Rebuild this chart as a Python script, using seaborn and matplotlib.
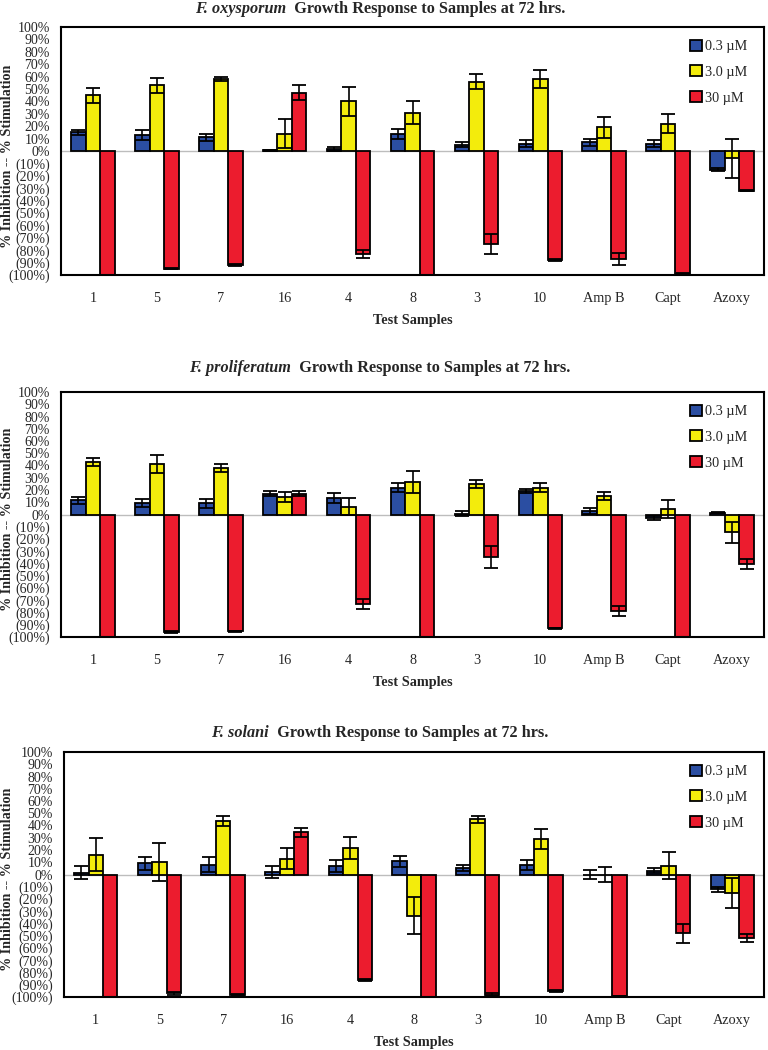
import matplotlib
matplotlib.use("Agg")
import numpy as np
import pandas as pd
import seaborn as sns
import matplotlib.pyplot as plt

# test samples and dose levels
samples = ["1", "5", "7", "16", "4", "8", "3", "10", "Amp B", "Capt", "Azoxy"]
doses = ["0.3 µM", "3.0 µM", "30 µM"]

# F. oxysporum (% inhibition/stimulation, with error)
oxy_03 = [15, 13, 11, 0.5, 1.5, 14, 5, 6, 7, 6, -15]
oxy_30 = [45, 53, 58, 14, 40, 31, 56, 58, 19, 22, -6]
oxy_300 = [-100, -95, -92, 47, -83, -100, -75, -88, -87, -99, -32]
oxy_03_err = [2, 4, 3, 0.5, 1.5, 4, 2, 3, 3, 3, 1]
oxy_30_err = [6, 6, 1.5, 11.5, 12, 9.5, 6, 7.5, 8.5, 7.5, 16]
oxy_300_err = [0, 0.5, 0.5, 6, 3, 0, 8, 1, 5, 0.5, 0.5]

# F. proliferatum
pro_03 = [11.5, 9.5, 9, 17, 13.5, 22, 0.5, 19, 3, -3, 1.5]
pro_30 = [43, 41, 38, 14, 6.5, 26.5, 25, 22, 15, 4.5, -14.5]
pro_300 = [-100, -96, -95.5, 17, -73, -100, -35, -93, -79, -100, -40.5]
pro_03_err = [3, 3, 4, 2, 4, 3.5, 2, 1.5, 2.5, 1.5, 0.5]
pro_30_err = [3, 7.5, 3.5, 4, 7, 9, 3.5, 3.5, 3.5, 7, 8.5]
pro_300_err = [0, 0.5, 0.5, 2, 4, 0, 9, 0.5, 4, 0, 4]

# F. solani
sol_03 = [1.5, 9, 8, 2, 7, 11, 5, 8, 0, 3, -12]
sol_30 = [16, 10, 44, 13, 22, -33.5, 45, 29, 0, 7, -15]
sol_300 = [-100, -97, -98, 34.5, -86, -100, -98, -95, -99.5, -48, -52]
sol_03_err = [5.5, 5.5, 6, 5, 5, 4.5, 2.5, 4, 4, 2, 2]
sol_30_err = [13.5, 15.5, 4, 8.5, 9, 15, 3, 8, 6, 11, 12]
sol_300_err = [0, 1, 0.5, 3.5, 1, 0, 1, 1, 0.5, 8, 3.5]

panels = [
    ("F. oxysporum", [oxy_03, oxy_30, oxy_300], [oxy_03_err, oxy_30_err, oxy_300_err]),
    ("F. proliferatum", [pro_03, pro_30, pro_300], [pro_03_err, pro_30_err, pro_300_err]),
    ("F. solani", [sol_03, sol_30, sol_300], [sol_03_err, sol_30_err, sol_300_err]),
]

colors = ["#2b4ea2", "#f3ec0c", "#ec1c2e"]

sns.set_theme(style="white")
plt.rcParams["font.family"] = ["Liberation Serif", "DejaVu Serif"]

fig = plt.figure(figsize=(7.68, 10.5), dpi=100)
W, H = 768, 1050
# axes boxes in pixels: left, top, right, bottom
boxes = [(61, 27, 764, 275), (61, 392, 764, 637), (64, 752, 764, 997)]
title_y = [9, 368, 733]

yt = np.arange(-100, 101, 10)
ylabels = ["%d%%" % v if v >= 0 else "(%d%%)" % -v for v in yt]

renderer = fig.canvas.get_renderer()

for k, (species, vals, errs) in enumerate(panels):
    l, t, r, b = boxes[k]
    ax = fig.add_axes([l / W, 1 - b / H, (r - l) / W, (b - t) / H])
    df = pd.DataFrame({
        "sample": samples * 3,
        "dose": [d for d in doses for _ in samples],
        "value": vals[0] + vals[1] + vals[2],
    })
    sns.barplot(data=df, x="sample", y="value", hue="dose", order=samples,
                hue_order=doses, palette=colors, errorbar=None, width=0.68,
                gap=0, edgecolor="black", linewidth=1.3, saturation=1, ax=ax)
    bar_conts = list(ax.containers)
    for i, cont in enumerate(bar_conts):
        xs = [p.get_x() + p.get_width() / 2 for p in cont]
        ax.errorbar(xs, vals[i], yerr=errs[i], fmt="none", ecolor="black",
                    elinewidth=1.2, capsize=5, capthick=1.3, zorder=5)
    ax.axhline(0, color="#bdbdbd", lw=1, zorder=0.5)
    ax.set_ylim(-100, 100)
    ax.set_xlim(-0.5, len(samples) - 0.5)
    ax.set_yticks(yt)
    ax.set_yticklabels(ylabels, fontsize=10)
    ax.tick_params(axis="y", direction="in", length=3, color="#999999", pad=8)
    ax.tick_params(axis="x", length=0, pad=12, labelsize=10.3)
    ax.set_xlabel("Test Samples", fontsize=10.3, fontweight="bold", labelpad=7)
    ax.set_ylabel("")
    fig.text(8 / W, 1 - (t + b + 10) / 2 / H, "% Inhibition -- % Stimulation",
             rotation=90, ha="center", va="center", fontsize=10.2, fontweight="bold")
    for s in ax.spines.values():
        s.set_color("black")
        s.set_linewidth(1.5)
    ax.legend(loc="upper right", bbox_to_anchor=(0.995, 1.0), frameon=False,
              handlelength=0.8, handleheight=0.8, labelspacing=0.85,
              handletextpad=0.25, fontsize=10.3)

    # two-part title, centred
    t1 = fig.text(0, 1 - title_y[k] / H, species, fontsize=11.7, fontweight="bold",
                  fontstyle="italic", va="center")
    t2 = fig.text(0, 1 - title_y[k] / H, "  Growth Response to Samples at 72 hrs.",
                  fontsize=11.7, fontweight="bold", va="center")
    w1 = t1.get_window_extent(renderer).width
    w2 = t2.get_window_extent(renderer).width
    x0 = 380 - (w1 + w2) / 2
    t1.set_x(x0 / W)
    t2.set_x((x0 + w1) / W)

fig.savefig("out.png", dpi=100)
